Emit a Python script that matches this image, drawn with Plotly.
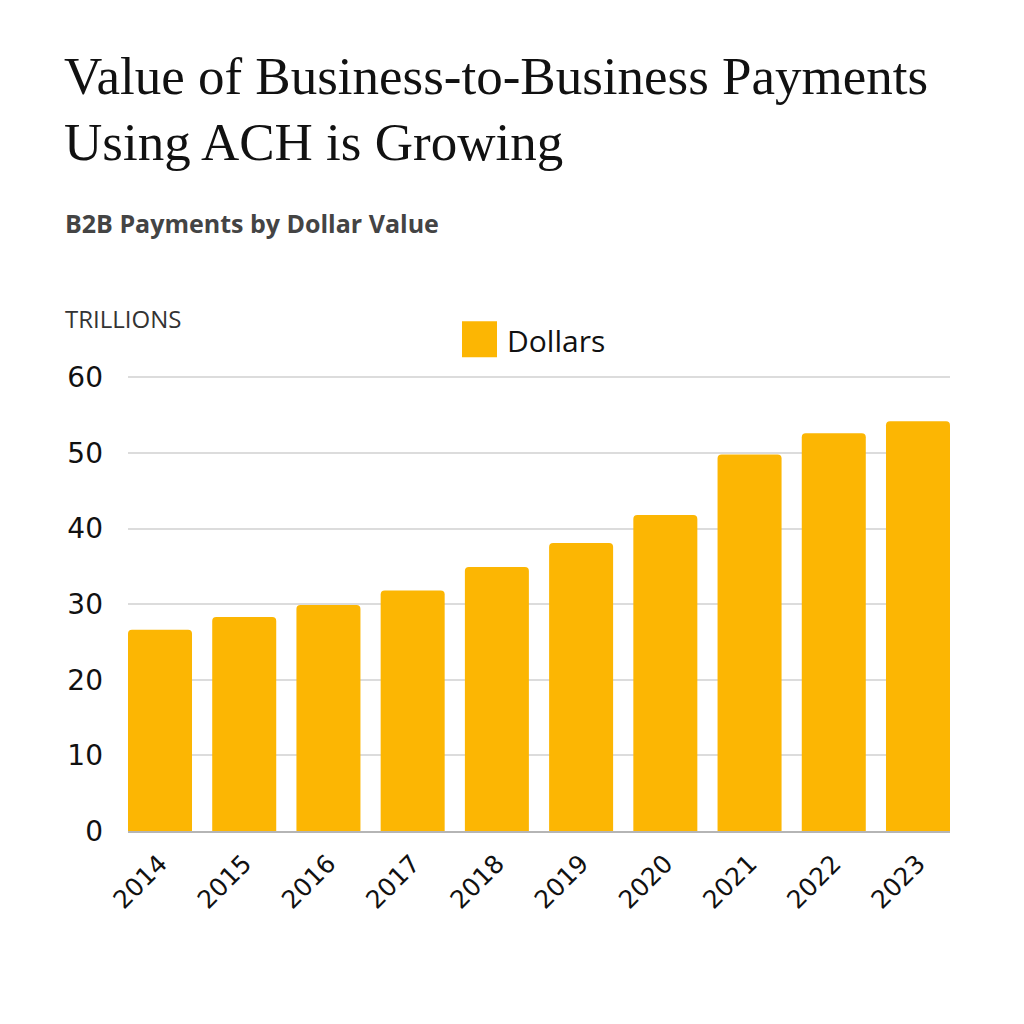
import plotly.graph_objects as go

years = ["2014", "2015", "2016", "2017", "2018", "2019", "2020", "2021", "2022", "2023"]
dollars = [26.6, 28.3, 29.9, 31.8, 34.9, 38.1, 41.8, 49.8, 52.6, 54.2]
y_ticks = [0, 10, 20, 30, 40, 50, 60]
series_name = "Dollars"
bar_color = "#FCB603"

W, H = 1024, 1024
YMAX = 60.3
L, R, B = 128, 950, 831
T = B - YMAX * (831 - 377) / 60.0

def px(x):
    return (x - L) / (R - L)

def py(y):
    return (B - y) / (B - T)

fig = go.Figure()
fig.add_trace(go.Bar(
    x=years, y=dollars, name=series_name, showlegend=False,
    marker=dict(color=bar_color, cornerradius=4, line=dict(width=0)),
))

fig.update_layout(
    width=W, height=H,
    margin=dict(l=L, r=W - R, t=T, b=H - B, autoexpand=False),
    paper_bgcolor="white", plot_bgcolor="white",
    bargap=0.24,
    xaxis=dict(type="category", range=[-0.38, 9.38], tickangle=-45,
               tickfont=dict(family="DejaVu Sans", size=25, color="#111"),
               showline=True, linecolor="#b5b5b5", linewidth=2, showgrid=False,
               ticks="", ticklabelstandoff=6),
    yaxis=dict(range=[0, YMAX], tickvals=y_ticks,
               tickfont=dict(family="DejaVu Sans", size=28, color="#111"),
               showgrid=True, gridcolor="#dcdcdc", gridwidth=1.5, zeroline=False,
               showline=False, ticks="", ticklabelstandoff=24),
    shapes=[
        dict(type="rect", xref="paper", yref="paper",
             x0=px(462), x1=px(497), y0=py(357), y1=py(321),
             fillcolor=bar_color, line=dict(width=0)),
    ],
    annotations=[
        dict(text="Value of Business-to-Business Payments",
             xref="paper", yref="paper", x=px(62), y=py(45), xanchor="left", yanchor="top",
             align="left", showarrow=False,
             font=dict(family="Liberation Serif", size=53, color="#111")),
        dict(text="Using ACH is Growing",
             xref="paper", yref="paper", x=px(62), y=py(111), xanchor="left", yanchor="top",
             align="left", showarrow=False,
             font=dict(family="Liberation Serif", size=53, color="#111")),
        dict(text="<b>B2B Payments by Dollar Value</b>",
             xref="paper", yref="paper", x=px(63), y=py(223), xanchor="left", yanchor="middle",
             align="left", showarrow=False,
             font=dict(family="Open Sans", size=25, color="#444")),
        dict(text="TRILLIONS",
             xref="paper", yref="paper", x=px(63), y=py(318), xanchor="left", yanchor="middle",
             align="left", showarrow=False,
             font=dict(family="Open Sans", size=24, color="#333")),
        dict(text=series_name,
             xref="paper", yref="paper", x=px(505), y=py(340), xanchor="left", yanchor="middle",
             align="left", showarrow=False,
             font=dict(family="Open Sans", size=30, color="#111")),
    ],
)

fig.write_html("out.html")
